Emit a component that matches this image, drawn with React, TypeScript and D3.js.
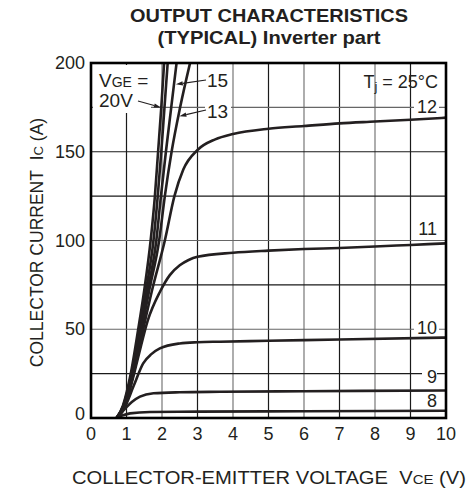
import React from "react";
import * as d3 from "d3";

// ---- data (VCE [V], IC [A]) ----
const vge20: [number, number][] = [[0.72,0],[0.9,7],[1.12,25],[1.33,50],[1.5,72],[1.68,100],[1.8,125],[1.89,150],[1.98,175],[2.06,200]];
const vge17: [number, number][] = [[0.72,0],[0.91,7],[1.14,25],[1.36,50],[1.55,72],[1.76,100],[1.88,125],[1.98,150],[2.07,175],[2.16,200]];
const vge15: [number, number][] = [[0.72,0],[0.92,7],[1.16,25],[1.4,50],[1.6,72],[1.84,100],[1.97,125],[2.11,150],[2.26,175],[2.41,200]];
const vge13: [number, number][] = [[0.72,0],[0.93,7],[1.18,25],[1.43,50],[1.64,72],[1.92,100],[2.08,125],[2.27,150],[2.51,175],[2.79,200]];
const vge12: [number, number][] = [[0.72,0],[0.95,7],[1.2,25],[1.47,50],[1.72,72],[2.08,100],[2.35,125],[2.6,140],[3.0,151],[3.5,157],[4,160],[5,163],[6,164.5],[7,166],[8,167],[9,168],[10,169.2]];
const vge11: [number, number][] = [[0.72,0],[0.95,6],[1.15,20],[1.35,36],[1.6,55],[1.94,71],[2.22,80.5],[2.5,86],[2.75,89],[3.0,90.8],[4,93.1],[5,94.3],[6,95.2],[7,95.8],[8,96.6],[9,97.5],[10,98.4]];
const vge10: [number, number][] = [[0.72,0],[0.95,6],[1.2,18],[1.47,30.8],[1.7,36],[1.94,39.2],[2.5,42],[3,42.7],[3.63,43],[5,43.5],[7,44.2],[10,45.3]];
const vge9: [number, number][] = [[0.72,0],[0.95,5],[1.15,9],[1.38,12],[1.76,13.9],[2.5,14.5],[3.63,14.8],[6,15.1],[10,15.5]];
const vge8: [number, number][] = [[0.72,0],[0.9,1.5],[1.1,2.6],[1.66,3.4],[3,3.6],[6,3.8],[10,4.1]];

const seriesList = [vge20, vge17, vge15, vge13, vge12, vge11, vge10, vge9, vge8];

const xTicks = [0,1,2,3,4,5,6,7,8,9,10];
const yTicks = [0,50,100,150,200];
const yGrid = [25,50,75,100,125,150,175];
const xGrid = [1,2,3,4,5,6,7,8,9];

// right-side curve labels: [text, IC position]
const rightLabels: [string, number][] = [["12",175.5],["11",106.5],["10",51],["9",23.5],["8",10]];

const FONT = "'Liberation Sans', Arial, Helvetica, sans-serif";
const INK = "#231f20";

export default function App() {
  const W = 467, H = 495;
  const L = 91, T = 63, PW = 355, PH = 355;
  const x = d3.scaleLinear().domain([0, 10]).range([L, L + PW]);
  const y = d3.scaleLinear().domain([0, 200]).range([T + PH, T]);
  const line = d3.line<[number, number]>().x(d => x(d[0])).y(d => y(d[1])).curve(d3.curveMonotoneX);

  const xGridColor = (v: number) => (v % 2 === 1 ? "#1a1a1a" : "#777");
  const yGridColor = (v: number) => (v === 50 || v === 100 || v === 175 ? "#666" : "#1a1a1a");

  const arrow = (x1: number, y1: number, x2: number, y2: number, key: string) => {
    const ang = Math.atan2(y2 - y1, x2 - x1);
    const len = 7, wid = 2.2;
    const bx = x2 - len * Math.cos(ang), by = y2 - len * Math.sin(ang);
    const px = -Math.sin(ang) * wid, py = Math.cos(ang) * wid;
    return (
      <g key={key}>
        <line x1={x1} y1={y1} x2={bx} y2={by} stroke={INK} strokeWidth={1.2} />
        <path d={`M${x2},${y2}L${bx + px},${by + py}L${bx - px},${by - py}Z`} fill={INK} />
      </g>
    );
  };

  return (
    <svg width={W} height={H} style={{ position: "absolute", left: 0, top: 0, background: "#fff" }} fontFamily={FONT}>
      <rect x={0} y={0} width={W} height={H} fill="#fff" />
      {/* title */}
      <text x={269} y={22} textAnchor="middle" fontWeight="bold" fontSize={19} fill={INK} textLength={278} lengthAdjust="spacingAndGlyphs">OUTPUT CHARACTERISTICS</text>
      <text x={269} y={44} textAnchor="middle" fontWeight="bold" fontSize={19} fill={INK} textLength={223} lengthAdjust="spacingAndGlyphs">(TYPICAL) Inverter part</text>

      {/* grid */}
      {xGrid.map(v => (
        <line key={"xg" + v} x1={x(v)} x2={x(v)} y1={T} y2={T + PH} stroke={xGridColor(v)} strokeWidth={1.2} />
      ))}
      {yGrid.map(v => (
        <line key={"yg" + v} x1={L} x2={L + PW} y1={y(v)} y2={y(v)} stroke={yGridColor(v)} strokeWidth={1.2} />
      ))}

      {/* label backgrounds */}
      <rect x={L + 2} y={T + 2} width={58} height={48} fill="#fff" />
      {rightLabels.map(([t, v]) => (
        <rect key={"bg" + t} x={t.length > 1 ? 414 : 422} y={y(v) - 10} width={t.length > 1 ? 25 : 15} height={20} fill="#fff" />
      ))}
      <rect x={205} y={y(175) - 8} width={26} height={17} fill="#fff" />

      {/* curves */}
      <defs>
        <clipPath id="plotclip"><rect x={L} y={T} width={PW} height={PH} /></clipPath>
      </defs>
      <g clipPath="url(#plotclip)">
        {seriesList.map((s, i) => (
          <path key={"c" + i} d={line(s) || ""} fill="none" stroke={INK} strokeWidth={2.6} strokeLinejoin="round" />
        ))}
      </g>

      {/* frame */}
      <rect x={L} y={T} width={PW} height={PH} fill="none" stroke="#000" strokeWidth={2.6} />

      {/* tick labels */}
      {xTicks.map(v => (
        <text key={"xt" + v} x={x(v)} y={440} textAnchor="middle" fontSize={18} fill={INK}>{v}</text>
      ))}
      {yTicks.map(v => (
        <text key={"yt" + v} x={85} y={y(v) + (v === 0 ? 2 : 6)} textAnchor="end" fontSize={18} fill={INK}>{v}</text>
      ))}

      {/* axis titles */}
      <text x={72} y={484} fontSize={17.5} fill={INK} textLength={394} lengthAdjust="spacingAndGlyphs">
        COLLECTOR-EMITTER VOLTAGE{"\u00a0\u00a0"}V<tspan fontSize={13}>CE</tspan> (V)
      </text>
      <text transform={`translate(43,${T + PH / 2 + 2}) rotate(-90)`} textAnchor="middle" fontSize={17.5} fill={INK}>
        COLLECTOR CURRENT{"\u00a0\u00a0"}I<tspan fontSize={13}>C</tspan> (A)
      </text>

      {/* annotations */}
      <text x={99} y={87} fontSize={19} fill={INK}>V<tspan fontSize={14}>GE</tspan> =</text>
      <text x={99} y={107} fontSize={19} fill={INK}>20V</text>
      {arrow(138, 101, x(1.97), y(175), "a20")}
      <text x={207} y={87} fontSize={19} fill={INK}>15</text>
      {arrow(206, 80, x(2.39), y(188), "a15")}
      <text x={207} y={118} fontSize={19} fill={INK}>13</text>
      {arrow(206, 110, x(2.49), y(170), "a13")}

      <text x={438} y={88} textAnchor="end" fontSize={18} fill={INK}>
        T<tspan fontSize={13} dy={3}>j</tspan><tspan dy={-3}> = 25°C</tspan>
      </text>
      {rightLabels.map(([t, v]) => (
        <text key={"rl" + t} x={437} y={y(v) + 6.5} textAnchor="end" fontSize={18} fill={INK}>{t}</text>
      ))}
    </svg>
  );
}
